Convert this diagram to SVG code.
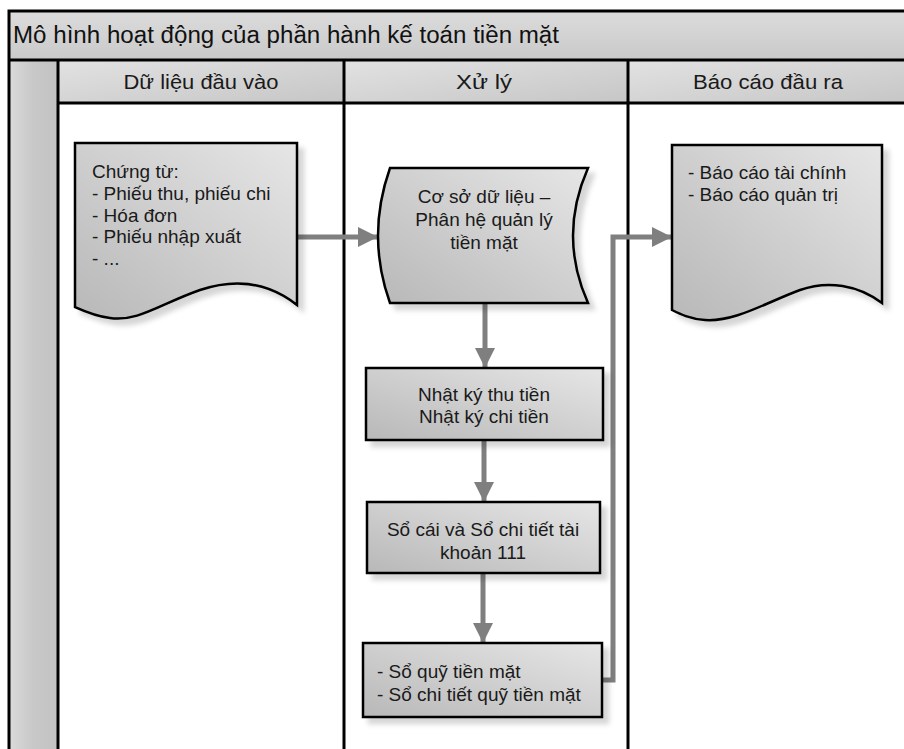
<svg xmlns="http://www.w3.org/2000/svg" width="904" height="749" viewBox="0 0 904 749">
  <defs>
    <linearGradient id="gTitle" x1="0" y1="0" x2="0" y2="1">
      <stop offset="0" stop-color="#dcdcdc"/>
      <stop offset="1" stop-color="#c9c9c9"/>
    </linearGradient>
    <linearGradient id="gHead" x1="0" y1="0" x2="1" y2="1">
      <stop offset="0" stop-color="#e2e2e2"/>
      <stop offset="1" stop-color="#c6c6c6"/>
    </linearGradient>
    <linearGradient id="gStrip" x1="0" y1="0" x2="1" y2="0">
      <stop offset="0" stop-color="#dadada"/>
      <stop offset="0.5" stop-color="#c8c8c8"/>
      <stop offset="1" stop-color="#c2c2c2"/>
    </linearGradient>
    <linearGradient id="gShape" x1="1" y1="0" x2="0" y2="1">
      <stop offset="0" stop-color="#e6e6e6"/>
      <stop offset="1" stop-color="#b8b8b8"/>
    </linearGradient>
    <filter id="shadow" x="-10%" y="-10%" width="130%" height="130%">
      <feDropShadow dx="6" dy="6" stdDeviation="2.5" flood-color="#000" flood-opacity="0.16"/>
    </filter>
    <marker id="head" viewBox="0 0 10 10" refX="10" refY="5" markerWidth="5.4" markerHeight="4" markerUnits="strokeWidth" orient="auto">
      <path d="M0,0 L10,5 L0,10 Z" fill="#7f7f7f"/>
    </marker>
  </defs>
  <style>
    .frame { stroke: #000; stroke-width: 3; fill: none; }
    .shape { fill: url(#gShape); stroke: #000; stroke-width: 2.5; filter: url(#shadow); }
    .txt { font-family: "Liberation Sans", Arial, sans-serif; font-size: 19px; fill: #1a1a1a; }
    .head { font-family: "Liberation Sans", Arial, sans-serif; font-size: 20.5px; fill: #1a1a1a; text-anchor: middle; }
    .title { font-family: "Liberation Sans", Arial, sans-serif; font-size: 23px; fill: #111; }
    .mid { text-anchor: middle; }
    .link { fill: none; stroke: #7f7f7f; stroke-width: 5; marker-end: url(#head); }
  </style>

  <rect width="904" height="749" fill="#fff"/>

  <!-- pool frame: title band, side strip, lane headers and dividers -->
  <g id="pool">
    <rect x="9" y="11" width="900" height="49" fill="url(#gTitle)"/>
    <rect x="9" y="60" width="49" height="694" fill="url(#gStrip)"/>
    <rect x="58" y="60" width="286" height="43" fill="url(#gHead)"/>
    <rect x="344" y="60" width="284" height="43" fill="url(#gHead)"/>
    <rect x="628" y="60" width="280" height="43" fill="url(#gHead)"/>
    <path class="frame" d="M9,754 V11 H909 M9,60 H909 M58,103 H909 M58,60 V754 M344,60 V754 M628,60 V754"/>
    <text class="title" x="13" y="43" textLength="546" lengthAdjust="spacingAndGlyphs">Mô hình hoạt động của phần hành kế toán tiền mặt</text>
  </g>

  <g id="lane-input">
    <text class="head" x="201" y="89" textLength="155" lengthAdjust="spacingAndGlyphs">Dữ liệu đầu vào</text>
  </g>
  <g id="lane-process">
    <text class="head" x="484" y="89" textLength="56" lengthAdjust="spacingAndGlyphs">Xử lý</text>
  </g>
  <g id="lane-output">
    <text class="head" x="768" y="89" textLength="150" lengthAdjust="spacingAndGlyphs">Báo cáo đầu ra</text>
  </g>

  <!-- connectors -->
  <g id="connectors">
    <line class="link" x1="297" y1="237" x2="378" y2="237"/>
    <line class="link" x1="485" y1="303" x2="485" y2="368"/>
    <line class="link" x1="484" y1="440" x2="484" y2="502"/>
    <line class="link" x1="483" y1="573" x2="483" y2="643"/>
    <polyline class="link" points="602,680 613,680 613,237 672,237"/>
  </g>

  <g id="doc-chungtu">
    <path class="shape" d="M75,143 H297 V305 C268,282 236,278 200,290 C160,304 138,322 110,318 C95,316 84,311 75,307 Z"/>
    <text class="txt" x="92" y="178">Chứng từ:</text>
    <text class="txt" x="92" y="200">- Phiếu thu, phiếu chi</text>
    <text class="txt" x="92" y="221.5">- Hóa đơn</text>
    <text class="txt" x="92" y="243">- Phiếu nhập xuất</text>
    <text class="txt" x="92" y="264.5">- ...</text>
  </g>

  <g id="db-tienmat">
    <path class="shape" d="M390,168 H588 Q558,236 588,303 H390 Q366,236 390,168 Z"/>
    <text class="txt mid" x="484" y="203">Cơ sở dữ liệu –</text>
    <text class="txt mid" x="484" y="226">Phân hệ quản lý</text>
    <text class="txt mid" x="484" y="249">tiền mặt</text>
  </g>

  <g id="box-nhatky">
    <rect class="shape" x="366" y="368" width="237" height="72"/>
    <text class="txt mid" x="484" y="401">Nhật ký thu tiền</text>
    <text class="txt mid" x="484" y="423">Nhật ký chi tiền</text>
  </g>

  <g id="box-socai">
    <rect class="shape" x="367" y="502" width="233" height="71"/>
    <text class="txt mid" x="483" y="536">Sổ cái và Sổ chi tiết tài</text>
    <text class="txt mid" x="483" y="559">khoản 111</text>
  </g>

  <g id="box-soquy">
    <rect class="shape" x="363" y="643" width="239" height="74"/>
    <text class="txt" x="377" y="678">- Sổ quỹ tiền mặt</text>
    <text class="txt" x="377" y="701">- Sổ chi tiết quỹ tiền mặt</text>
  </g>

  <g id="doc-baocao">
    <path class="shape" d="M672,145 H882 V303 C858,285 828,280 800,290 C765,303 735,322 705,320 C690,319 680,314 672,310 Z"/>
    <text class="txt" x="688" y="179">- Báo cáo tài chính</text>
    <text class="txt" x="688" y="201">- Báo cáo quản trị</text>
  </g>
</svg>
